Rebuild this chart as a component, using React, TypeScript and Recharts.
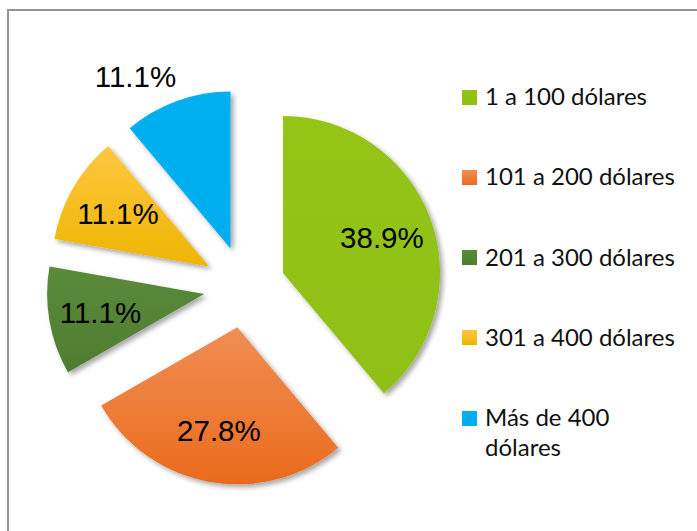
import React from 'react';
import { PieChart, Pie, Cell, Legend, Sector } from 'recharts';

const categories = ['1 a 100 dólares', '101 a 200 dólares', '201 a 300 dólares', '301 a 400 dólares', 'Más de 400 dólares'];
const shares = [38.9, 27.8, 11.1, 11.1, 11.1];
const fills = ['url(#gGreen)', 'url(#gOrange)', 'url(#gDark)', 'url(#gYellow)', 'url(#gBlue)'];

const data = categories.map((name, i) => ({ name, value: shares[i] }));

const EXPLODE = 41;
const RAD = Math.PI / 180;
const OUTSIDE_INDEX = 4;
const LABEL_FONT = "'Liberation Sans', Arial, sans-serif";

const offsetOf = (midAngle: number) => ({
  dx: EXPLODE * Math.cos(-midAngle * RAD),
  dy: EXPLODE * Math.sin(-midAngle * RAD),
});

const renderSlice = (props: any) => {
  const { cx, cy, midAngle } = props;
  const { dx, dy } = offsetOf(midAngle);
  return (
    <Sector
      cx={cx + dx}
      cy={cy + dy}
      innerRadius={props.innerRadius}
      outerRadius={props.outerRadius}
      startAngle={props.startAngle}
      endAngle={props.endAngle}
      fill={props.fill}
      stroke="none"
      filter="url(#shadow)"
    />
  );
};

const renderLabel = (props: any) => {
  const { cx, cy, midAngle, outerRadius, index, value } = props;
  const { dx, dy } = offsetOf(midAngle);
  const vx = cx + dx;
  const vy = cy + dy;
  const c = Math.cos(-midAngle * RAD);
  const s = Math.sin(-midAngle * RAD);
  const text = `${Number(value).toFixed(1)}%`;
  if (index === OUTSIDE_INDEX) {
    const ax = vx + (outerRadius + 2) * c;
    const ay = vy + (outerRadius + 2) * s;
    return (
      <text x={ax} y={ay - 12} textAnchor={c < 0 ? 'end' : 'start'} fill="#000" fontSize={29.5} fontFamily={LABEL_FONT}>
        {text}
      </text>
    );
  }
  const r = outerRadius * 0.67;
  return (
    <text x={vx + r * c} y={vy + r * s} textAnchor="middle" dominantBaseline="central" fill="#000" fontSize={29.5} fontFamily={LABEL_FONT}>
      {text}
    </text>
  );
};

const renderLegend = (props: any) => {
  const { payload } = props;
  return (
    <div style={{ fontFamily: "Lato, 'Open Sans', sans-serif", fontSize: 24, lineHeight: '30px', color: '#111' }}>
      {payload.map((entry: any, i: number) => (
        <div key={i} style={{ display: 'flex', alignItems: 'flex-start', height: 80.3 }}>
          <svg width={15} height={15} style={{ marginTop: 8.5, flex: 'none' }}>
            <rect width={15} height={15} fill={fills[i]} />
          </svg>
          <span style={{ marginLeft: 8, width: 195 }}>{entry.value}</span>
        </div>
      ))}
    </div>
  );
};

export default function App() {
  return (
    <div style={{ position: 'absolute', left: 0, top: 0, width: 697, height: 531, overflow: 'hidden', background: '#fff' }}>
      <div style={{ position: 'absolute', left: 7, top: 9, width: 700, height: 540, borderLeft: '2px solid #939393', borderTop: '2px solid #939393' }} />
      <div style={{ position: 'absolute', left: 0, top: 0 }}>
        <PieChart width={697} height={531} margin={{ top: 0, right: 0, bottom: 0, left: 0 }}>
          <defs>
            <filter id="shadow" x="-20%" y="-20%" width="150%" height="150%">
              <feDropShadow dx="3" dy="3" stdDeviation="2.5" floodColor="#000" floodOpacity="0.35" />
            </filter>
            <linearGradient id="gGreen" x1="0" y1="0" x2="0" y2="1">
              <stop offset="0%" stopColor="#93C412" />
              <stop offset="100%" stopColor="#90C012" />
            </linearGradient>
            <linearGradient id="gOrange" x1="0" y1="0" x2="0" y2="1">
              <stop offset="0%" stopColor="#F28E54" />
              <stop offset="100%" stopColor="#E96B1C" />
            </linearGradient>
            <linearGradient id="gDark" x1="0" y1="0" x2="0" y2="1">
              <stop offset="0%" stopColor="#5A8A3A" />
              <stop offset="100%" stopColor="#4F7D31" />
            </linearGradient>
            <linearGradient id="gYellow" x1="0" y1="0" x2="0" y2="1">
              <stop offset="0%" stopColor="#FFC742" />
              <stop offset="100%" stopColor="#EDB500" />
            </linearGradient>
            <linearGradient id="gBlue" x1="0" y1="0" x2="0" y2="1">
              <stop offset="0%" stopColor="#00B0F0" />
              <stop offset="100%" stopColor="#00AEEE" />
            </linearGradient>
          </defs>
          <Pie
            data={data}
            dataKey="value"
            nameKey="name"
            cx={244.5}
            cy={287}
            outerRadius={157}
            startAngle={90}
            endAngle={-270}
            stroke="none"
            labelLine={false}
            label={renderLabel}
            shape={renderSlice}
            isAnimationActive={false}
          >
            {data.map((d, i) => (
              <Cell key={d.name} fill={fills[i]} />
            ))}
          </Pie>
          <Legend
            layout="vertical"
            align="right"
            verticalAlign="top"
            content={renderLegend}
            wrapperStyle={{ left: 462, top: 81, width: 230 }}
          />
        </PieChart>
      </div>
    </div>
  );
}
